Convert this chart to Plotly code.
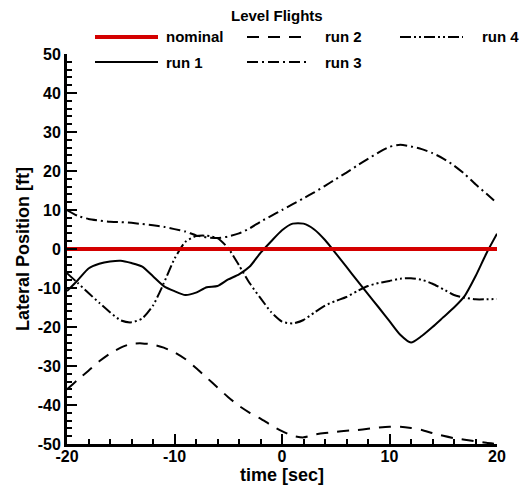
import plotly.graph_objects as go

# time axis [sec]
time = list(range(-20, 21))

# lateral position [ft] for each flight
nominal = [0.0] * len(time)
run1 = [-10.8, -8.0, -5.0, -3.8, -3.2, -3.0, -3.6, -4.5, -7.0, -9.5, -10.8,
        -11.8, -11.2, -9.8, -9.5, -7.8, -6.5, -4.5, -1.0, 2.0, 4.8,
        6.5, 6.5, 5.0, 2.3, -1.1, -4.6, -8.1, -11.6, -15.0, -18.5,
        -22.0, -24.0, -22.3, -20.0, -17.5, -15.0, -12.0, -7.0, -1.2, 3.9]
run2 = [-36.0, -33.5, -31.2, -28.8, -26.8, -25.3, -24.3, -24.2, -24.5, -25.3, -26.5,
        -28.2, -30.5, -33.0, -35.5, -38.0, -40.2, -42.0, -43.5, -45.2, -46.7,
        -47.9, -48.3, -47.6, -47.2, -46.9, -46.6, -46.4, -46.1, -45.8, -45.6,
        -45.6, -45.9, -46.4, -47.2, -47.9, -48.5, -48.9, -49.3, -49.7, -50.0]
run3 = [10.0, 8.5, 7.7, 7.3, 7.0, 6.9, 6.7, 6.4, 6.1, 5.7, 5.1,
        4.5, 3.5, 3.0, 2.8, 3.2, 4.0, 5.3, 7.0, 8.5, 10.0,
        11.5, 13.0, 14.5, 16.2, 17.9, 19.6, 21.4, 23.1, 24.8, 26.2,
        26.7, 26.3, 25.6, 24.6, 23.2, 21.4, 19.2, 16.6, 14.2, 11.8]
run4 = [-6.2, -8.7, -11.3, -13.8, -16.2, -18.3, -18.8, -17.8, -14.5, -8.8, -2.5,
        1.8, 3.3, 3.4, 2.8, 0.2, -4.2, -8.8, -12.6, -16.2, -18.6,
        -19.1, -18.2, -16.3, -14.5, -13.3, -12.3, -10.8, -9.5, -8.7, -8.2,
        -7.6, -7.5, -7.9, -8.9, -10.3, -11.8, -12.5, -12.9, -12.9, -12.8]

x_ticks = [-20, -10, 0, 10, 20]
y_ticks = [-50, -40, -30, -20, -10, 0, 10, 20, 30, 40, 50]

RED = "#d40000"
BLACK = "#000000"
FONT = "Liberation Sans"

DASH2 = "12px,9px"
DASH3 = "11px,4px,2px,4px"
DASH4 = "11px,3px,2px,3px,2px,3px"

series = [
    ("run 1", run1, "solid"),
    ("run 2", run2, DASH2),
    ("run 3", run3, DASH3),
    ("run 4", run4, DASH4),
]

fig = go.Figure()
for name, vals, dash in series:
    fig.add_trace(go.Scatter(
        x=time, y=vals, mode="lines", name=name,
        line=dict(color=BLACK, width=2, dash=dash, shape="spline", smoothing=0.6),
        showlegend=False,
    ))
fig.add_trace(go.Scatter(
    x=time, y=nominal, mode="lines", name="nominal",
    line=dict(color=RED, width=4), showlegend=False,
))

# legend block and axis titles placed in paper coordinates
L, R, T, B = 67, 32, 54, 45
W, H = 529, 489
pw, ph = W - L - R, H - T - B


def px(xp):
    return (xp - L) / pw


def py(yp):
    return (H - B - yp) / ph


legend_items = [
    ("nominal", RED, 4, "solid", 95, 37, 164),
    ("run 2", BLACK, 2, DASH2, 247, 37, 323),
    ("run 4", BLACK, 2, DASH4, 400, 37, 480),
    ("run 1", BLACK, 2, "solid", 95, 62, 164),
    ("run 3", BLACK, 2, DASH3, 247, 62, 323),
]
for label, col, w, dash, x0, yy, tx in legend_items:
    fig.add_shape(type="line", xref="paper", yref="paper",
                  x0=px(x0), x1=px(x0 + 63), y0=py(yy), y1=py(yy),
                  line=dict(color=col, width=w, dash=dash))
    fig.add_annotation(xref="paper", yref="paper", x=px(tx), y=py(yy),
                       xanchor="left", yanchor="middle", showarrow=False,
                       text=label, font=dict(family=FONT, size=15, color=BLACK, weight="bold"))

fig.add_annotation(xref="paper", yref="paper", x=px(277), y=py(16),
                   xanchor="center", yanchor="middle", showarrow=False,
                   text="Level Flights",
                   font=dict(family=FONT, size=15, color=BLACK, weight="bold"))

fig.add_annotation(xref="paper", yref="paper", x=0.5, y=py(475),
                   xanchor="center", yanchor="middle", showarrow=False,
                   text="time [sec]",
                   font=dict(family=FONT, size=18, color=BLACK, weight="bold"))

axis_common = dict(
    showgrid=False, zeroline=False, automargin=False,
    showline=True, linecolor=BLACK, linewidth=3,
    ticks="inside", ticklen=10, tickwidth=2, tickcolor=BLACK,
    tickfont=dict(family=FONT, size=16, color=BLACK, weight="bold"),
    minor=dict(dtick=2, ticks="inside", ticklen=5, tickwidth=2, tickcolor=BLACK),
)

fig.update_layout(
    width=W, height=H,
    margin=dict(l=L, r=R, t=T, b=B, autoexpand=False),
    paper_bgcolor="white", plot_bgcolor="white",
    xaxis=dict(range=[-20, 20], tickvals=x_ticks, ticktext=[str(v) for v in x_ticks],
               ticklabelstandoff=-4, **axis_common),
    yaxis=dict(range=[-50, 50], tickvals=y_ticks, ticktext=[str(v) for v in y_ticks],
               title=dict(text="Lateral Position [ft]", standoff=4,
                          font=dict(family=FONT, size=18, color=BLACK, weight="bold")),
               **axis_common),
    showlegend=False,
)

fig.write_html("out.html")
